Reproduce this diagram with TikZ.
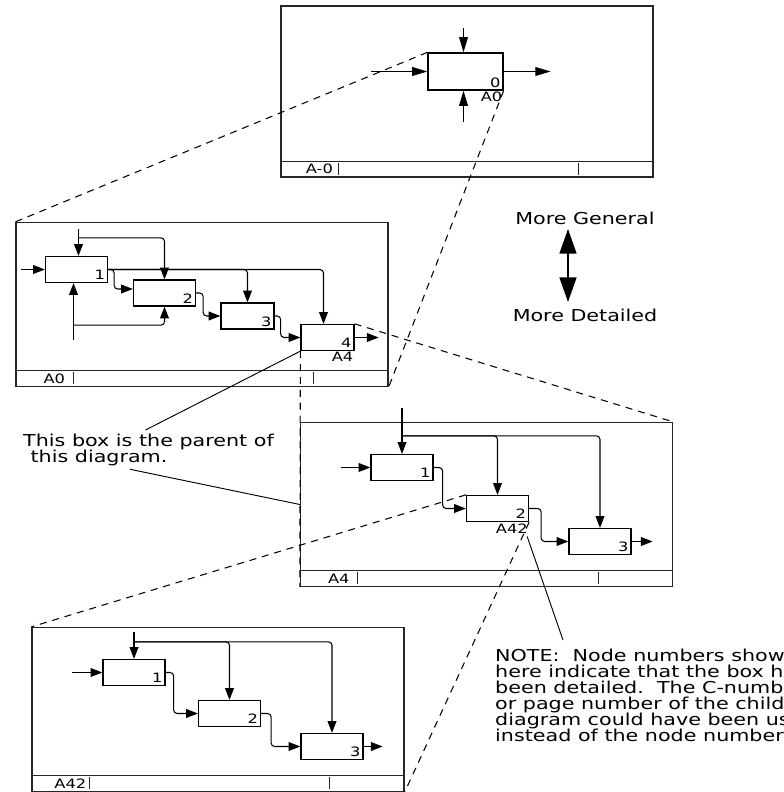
\documentclass[tikz,border=0pt]{standalone}
\usepackage{fontspec}
\setmainfont{DejaVu Sans}[FakeStretch=1.26]
\usetikzlibrary{arrows.meta,positioning,calc}

\begin{document}
\begin{tikzpicture}[x=0.03cm,y=-0.03cm,
    diagframe/.style={draw=black!85,line width=1.1pt,minimum width=11.16cm,minimum height=4.92cm,inner sep=0pt},
    actbox/.style={draw,line width=1.1pt,minimum width=1.86cm,minimum height=0.78cm,inner sep=0pt},
    narrowbox/.style={actbox,minimum width=1.59cm},
    flow/.style={line width=0.9pt,rounded corners=3pt,-{Triangle[length=10pt,width=7.5pt]}},
    bigflow/.style={line width=1.3pt,{Triangle[length=21pt,width=14.5pt]}-{Triangle[length=21pt,width=14.5pt]}},
    zoomline/.style={line width=0.9pt,dash pattern=on 6pt off 5pt},
    leader/.style={line width=0.8pt},
    num/.style={font=\fontsize{11}{11}\selectfont,inner sep=2.5pt},
    txt/.style={font=\fontsize{14}{13.6}\selectfont,inner sep=0pt}]
  \useasboundingbox (0,0) rectangle (783,792);
  \fill[white] (0,0) rectangle (783,792);
  \clip (0,0) rectangle (783,792);

  \node[diagframe,minimum height=5.13cm] (ftop) at (467,91.5) {};
  \node[diagframe] (fa0) at (202,304.5) {};
  \node[diagframe] (fa4) at (486.5,504.5) {};
  \node[diagframe] (fa42) at (218,709.5) {};
  \foreach \f/\lab in {ftop/A-0,fa0/A0,fa4/A4,fa42/A42}{
    \draw[black!85,line width=1.1pt] ($(\f.south west)+(0,-16.5)$) -- ($(\f.south east)+(0,-16.5)$);
    \draw[black!85,line width=1.1pt] ($(\f.south west)+(58,-3)$) -- ++(0,-12);
    \draw[black!85,line width=1.1pt] ($(\f.south east)+(-75,-3)$) -- ++(0,-12);
    \node[num,inner sep=0pt] (lab-\f) at ($(\f.south west)+(39,-8.5)$) {\lab};
  }

  \node[actbox,minimum width=2.25cm,minimum height=1.11cm] (a0) at (465.5,71.5) {};

  \node[actbox] (b1) at (76.5,269.5) {};
  \node[actbox] (b2) at (164.5,293) {};
  \node[narrowbox] (b3) at (247.5,316) {};
  \node[narrowbox] (b4) at (327.5,337.5) {};

  \node[actbox] (c1) at (402,467.5) {};
  \node[actbox] (c2) at (497.5,508.5) {};
  \node[actbox] (c3) at (600,541.5) {};

  \node[actbox] (e1) at (134,672.5) {};
  \node[actbox] (e2) at (229.5,713.5) {};
  \node[actbox] (e3) at (332,746.5) {};

  \foreach \b/\n in {a0/0,b1/1,b2/2,b3/3,b4/4,c1/1,c2/2,c3/3,e1/1,e2/2,e3/3}
    \node[num,anchor=south east] (\b-num) at (\b.south east) {\n};
  \node[num,anchor=north east,inner sep=1pt] (a0-ref) at (a0.south east) {A0};
  \node[num,anchor=north east,inner sep=1pt] (b4-ref) at (b4.south east) {A4};
  \node[num,anchor=north east,inner sep=1pt] (c2-ref) at (c2.south east) {A42};

  \draw[flow,-{Triangle[length=13pt,width=7.5pt]}] ($(a0.west)+(-56,0)$) -- (a0.west);
  \draw[flow,-{Triangle[length=13pt,width=7.5pt]}] ($(a0.north)+(-2,-24)$) -- ($(a0.north)+(-2,0)$);
  \draw[flow,-{Triangle[length=13pt,width=7.5pt]}] ($(a0.south)+(-2,31)$) -- ($(a0.south)+(-2,0)$);
  \draw[flow,-{Triangle[length=13pt,width=7.5pt]}] (a0.east) -- ++(47,0);

  \draw[flow] ($(b1.west)+(-24,0)$) -- (b1.west);
  \draw[flow] ($(b1.north)+(2,-27)$) -- ($(b1.north)+(2,0)$);
  \draw[flow] ($(b1.north)+(2,-18)$) -| (b2.north);
  \draw[flow] ($(b1.south)+(-3,57)$) -- ($(b1.south)+(-3,0)$);
  \draw[flow] ($(b1.south)+(-3,42)$) -| (b2.south);
  \draw[flow] (b1.east) -- ++(6,0) |- ($(b2.west)+(0,-4)$);
  \draw[flow] (b1.east) -| (b3.north);
  \draw[flow] (b1.east) -| ($(b4.north)+(-4,0)$);
  \draw[flow] (b2.east) -- ++(7,0) |- (b3.west);
  \draw[flow] (b3.east) -- ++(6,0) |- (b4.west);
  \draw[flow] (b4.east) -- ++(24,0);

  \draw[flow] ($(c1.west)+(-29,0)$) -- (c1.west);
  \draw[flow] ($(c1.north)+(0,-46)$) -- (c1.north);
  \draw[flow] ($(c1.north)+(0,-18)$) -| (c2.north);
  \draw[flow] ($(c1.north)+(0,-18)$) -| (c3.north);
  \draw[flow] (c1.east) -- ++(9,0) |- (c2.west);
  \draw[flow] (c2.east) -- ++(12,0) |- (c3.west);
  \draw[flow] (c3.east) -- ++(21,0);

  \draw[flow] ($(e1.west)+(-30,0)$) -- (e1.west);
  \draw[flow] ($(e1.north)+(0,-27)$) -- (e1.north);
  \draw[flow] ($(e1.north)+(0,-17)$) -| (e2.north);
  \draw[flow] ($(e1.north)+(0,-17)$) -| (e3.north);
  \draw[flow] (e1.east) -- ++(8,0) |- (e2.west);
  \draw[flow] (e2.east) -- ++(10,0) |- (e3.west);
  \draw[flow] (e3.east) -- ++(19,0);

  \draw[zoomline] (a0.north west) -- (fa0.north west);
  \draw[zoomline] (a0.south east) -- (fa0.south east);
  \draw[zoomline] (b4.north east) -- (fa4.north east);
  \draw[zoomline] (b4.south west) -- (fa4.south west);
  \draw[zoomline] (c2.north west) -- (fa42.north west);
  \draw[zoomline] (c2.south east) -- (fa42.south east);

  \node[txt] (gen) at (585,218) {More General};
  \node[txt] (det) at (585,315) {More Detailed};
  \draw[bigflow] ($(gen.center)+(-17,11)$) -- ($(det.center)+(-17,-13)$);

  \node[txt,align=left,anchor=north west] (parent) at (23,434)
    {This box is the parent of\\\hspace*{0.45em}this diagram.};
  \node[txt,align=left,anchor=north west] (note) at (495,649)
    {NOTE:\ \ Node numbers shown\\here indicate that the box has\\been detailed.\ \ The C-number\\or page number of the child\\diagram could have been used\\instead of the node number.};

  \draw[leader] (b4.south west) -- ($(parent.north)+(-3,-4)$);
  \draw[leader] ($(parent.south west)+(107,3)$) -- (fa4.west);
  \draw[leader] ($(c2-ref.south east)+(-2,2)$) -- ($(note.north west)+(68,-9)$);
\end{tikzpicture}
\end{document}
